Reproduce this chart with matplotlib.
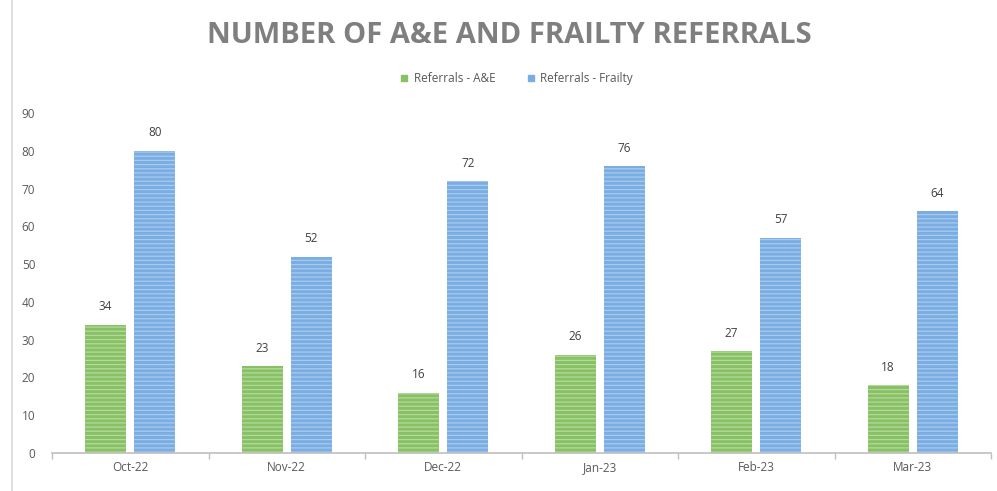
import numpy as np
import matplotlib.pyplot as plt
from matplotlib.lines import Line2D

# Monthly referral counts
months = ['Oct-22', 'Nov-22', 'Dec-22', 'Jan-23', 'Feb-23', 'Mar-23']
ae_referrals = [34, 23, 16, 26, 27, 18]
frailty_referrals = [80, 52, 72, 76, 57, 64]
series_names = ['Referrals - A&E', 'Referrals - Frailty']

plt.rcParams['font.family'] = ['Open Sans', 'DejaVu Sans']
plt.rcParams['hatch.linewidth'] = 0.9

fig = plt.figure(figsize=(9.97, 4.91), dpi=100)
ax = fig.add_axes([52 / 997, 38 / 491, 939 / 997, 340 / 491])

x = np.arange(len(months))
width = 0.26
offset = 0.157

green, green_light = '#88c163', '#b4d99d'
blue, blue_light = '#7aaee2', '#a8caee'

b1 = ax.bar(x - offset, ae_referrals, width, color=green, edgecolor=green_light,
            hatch='----', linewidth=0)
b2 = ax.bar(x + offset, frailty_referrals, width, color=blue, edgecolor=blue_light,
            hatch='----', linewidth=0)

for bars, vals in ((b1, ae_referrals), (b2, frailty_referrals)):
    for bar, v in zip(bars, vals):
        ax.text(bar.get_x() + bar.get_width() / 2, v + 3, str(v),
                ha='center', va='bottom', fontsize=8.5, color='#404040')

ax.set_xlim(-0.5, len(months) - 0.5)
ax.set_ylim(0, 90)
ax.set_yticks(range(0, 91, 10))
ax.set_xticks(x)
ax.set_xticklabels(months)
ax.tick_params(axis='y', length=0, labelsize=8.5, labelcolor='#595959', pad=12)
ax.tick_params(axis='x', length=0, labelsize=8.5, labelcolor='#595959', pad=6)

# category boundary ticks on the baseline
ax.set_xticks(np.arange(-0.5, len(months), 1), minor=True)
ax.tick_params(axis='x', which='minor', length=4, color='#bfbfbf', width=1)

for side in ('top', 'right', 'left'):
    ax.spines[side].set_visible(False)
ax.spines['bottom'].set_color('#bfbfbf')
ax.spines['bottom'].set_linewidth(1.2)

fig.text(0.511, 0.928, 'NUMBER OF A&E AND FRAILTY REFERRALS', ha='center', va='center',
         fontsize=21, fontweight='bold', color='#7f7f7f')

handles = [Line2D([], [], marker='s', linestyle='', markersize=5, color=green),
           Line2D([], [], marker='s', linestyle='', markersize=5, color=blue)]
fig.legend(handles, series_names, loc='center', bbox_to_anchor=(0.514, 0.84), ncol=2,
           frameon=False, fontsize=8.5, labelcolor='#595959', handletextpad=-0.2,
           columnspacing=2.0)

# chart area border on the left
fig.add_artist(Line2D([12 / 997, 12 / 997], [0, 1], color='#d9d9d9', linewidth=1.2))

fig.savefig('out.png', dpi=100)
